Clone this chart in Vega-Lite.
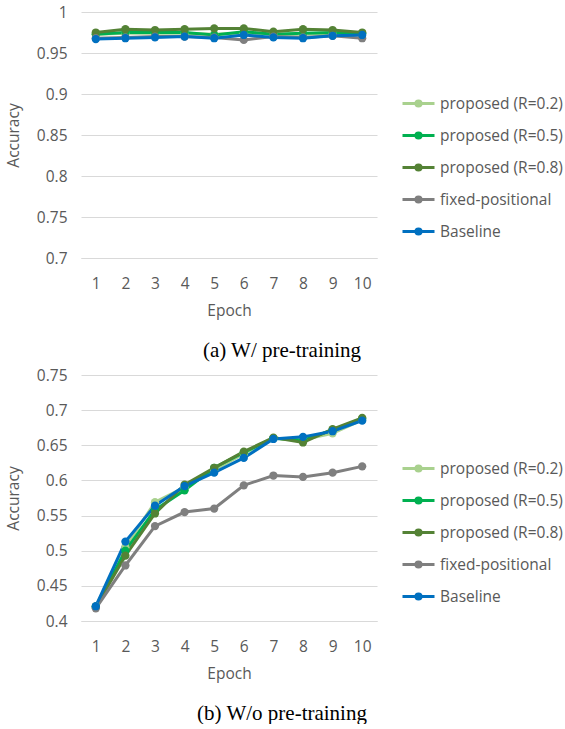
{
"$schema": "https://vega.github.io/schema/vega-lite/v6.json",
"padding": {"left": 6, "top": 5, "right": 5, "bottom": 0},
"datasets": {
"pre": [
{"series":"proposed (R=0.2)","epoch":1,"accuracy":0.973},{"series":"proposed (R=0.2)","epoch":2,"accuracy":0.974},{"series":"proposed (R=0.2)","epoch":3,"accuracy":0.974},{"series":"proposed (R=0.2)","epoch":4,"accuracy":0.974},{"series":"proposed (R=0.2)","epoch":5,"accuracy":0.973},{"series":"proposed (R=0.2)","epoch":6,"accuracy":0.974},{"series":"proposed (R=0.2)","epoch":7,"accuracy":0.973},{"series":"proposed (R=0.2)","epoch":8,"accuracy":0.973},{"series":"proposed (R=0.2)","epoch":9,"accuracy":0.974},{"series":"proposed (R=0.2)","epoch":10,"accuracy":0.974},
{"series":"proposed (R=0.5)","epoch":1,"accuracy":0.973},{"series":"proposed (R=0.5)","epoch":2,"accuracy":0.975},{"series":"proposed (R=0.5)","epoch":3,"accuracy":0.975},{"series":"proposed (R=0.5)","epoch":4,"accuracy":0.975},{"series":"proposed (R=0.5)","epoch":5,"accuracy":0.972},{"series":"proposed (R=0.5)","epoch":6,"accuracy":0.976},{"series":"proposed (R=0.5)","epoch":7,"accuracy":0.973},{"series":"proposed (R=0.5)","epoch":8,"accuracy":0.974},{"series":"proposed (R=0.5)","epoch":9,"accuracy":0.975},{"series":"proposed (R=0.5)","epoch":10,"accuracy":0.974},
{"series":"proposed (R=0.8)","epoch":1,"accuracy":0.975},{"series":"proposed (R=0.8)","epoch":2,"accuracy":0.979},{"series":"proposed (R=0.8)","epoch":3,"accuracy":0.978},{"series":"proposed (R=0.8)","epoch":4,"accuracy":0.979},{"series":"proposed (R=0.8)","epoch":5,"accuracy":0.980},{"series":"proposed (R=0.8)","epoch":6,"accuracy":0.980},{"series":"proposed (R=0.8)","epoch":7,"accuracy":0.976},{"series":"proposed (R=0.8)","epoch":8,"accuracy":0.979},{"series":"proposed (R=0.8)","epoch":9,"accuracy":0.978},{"series":"proposed (R=0.8)","epoch":10,"accuracy":0.975},
{"series":"fixed-positional","epoch":1,"accuracy":0.968},{"series":"fixed-positional","epoch":2,"accuracy":0.969},{"series":"fixed-positional","epoch":3,"accuracy":0.970},{"series":"fixed-positional","epoch":4,"accuracy":0.970},{"series":"fixed-positional","epoch":5,"accuracy":0.969},{"series":"fixed-positional","epoch":6,"accuracy":0.966},{"series":"fixed-positional","epoch":7,"accuracy":0.970},{"series":"fixed-positional","epoch":8,"accuracy":0.969},{"series":"fixed-positional","epoch":9,"accuracy":0.971},{"series":"fixed-positional","epoch":10,"accuracy":0.968},
{"series":"Baseline","epoch":1,"accuracy":0.967},{"series":"Baseline","epoch":2,"accuracy":0.968},{"series":"Baseline","epoch":3,"accuracy":0.969},{"series":"Baseline","epoch":4,"accuracy":0.970},{"series":"Baseline","epoch":5,"accuracy":0.968},{"series":"Baseline","epoch":6,"accuracy":0.972},{"series":"Baseline","epoch":7,"accuracy":0.969},{"series":"Baseline","epoch":8,"accuracy":0.968},{"series":"Baseline","epoch":9,"accuracy":0.971},{"series":"Baseline","epoch":10,"accuracy":0.972}
],
"nopre": [
{"series":"proposed (R=0.2)","epoch":1,"accuracy":0.421},{"series":"proposed (R=0.2)","epoch":2,"accuracy":0.505},{"series":"proposed (R=0.2)","epoch":3,"accuracy":0.569},{"series":"proposed (R=0.2)","epoch":4,"accuracy":0.590},{"series":"proposed (R=0.2)","epoch":5,"accuracy":0.615},{"series":"proposed (R=0.2)","epoch":6,"accuracy":0.638},{"series":"proposed (R=0.2)","epoch":7,"accuracy":0.660},{"series":"proposed (R=0.2)","epoch":8,"accuracy":0.658},{"series":"proposed (R=0.2)","epoch":9,"accuracy":0.667},{"series":"proposed (R=0.2)","epoch":10,"accuracy":0.686},
{"series":"proposed (R=0.5)","epoch":1,"accuracy":0.420},{"series":"proposed (R=0.5)","epoch":2,"accuracy":0.500},{"series":"proposed (R=0.5)","epoch":3,"accuracy":0.558},{"series":"proposed (R=0.5)","epoch":4,"accuracy":0.586},{"series":"proposed (R=0.5)","epoch":5,"accuracy":0.618},{"series":"proposed (R=0.5)","epoch":6,"accuracy":0.640},{"series":"proposed (R=0.5)","epoch":7,"accuracy":0.660},{"series":"proposed (R=0.5)","epoch":8,"accuracy":0.657},{"series":"proposed (R=0.5)","epoch":9,"accuracy":0.672},{"series":"proposed (R=0.5)","epoch":10,"accuracy":0.688},
{"series":"proposed (R=0.8)","epoch":1,"accuracy":0.420},{"series":"proposed (R=0.8)","epoch":2,"accuracy":0.493},{"series":"proposed (R=0.8)","epoch":3,"accuracy":0.553},{"series":"proposed (R=0.8)","epoch":4,"accuracy":0.594},{"series":"proposed (R=0.8)","epoch":5,"accuracy":0.618},{"series":"proposed (R=0.8)","epoch":6,"accuracy":0.641},{"series":"proposed (R=0.8)","epoch":7,"accuracy":0.661},{"series":"proposed (R=0.8)","epoch":8,"accuracy":0.654},{"series":"proposed (R=0.8)","epoch":9,"accuracy":0.673},{"series":"proposed (R=0.8)","epoch":10,"accuracy":0.689},
{"series":"fixed-positional","epoch":1,"accuracy":0.418},{"series":"fixed-positional","epoch":2,"accuracy":0.479},{"series":"fixed-positional","epoch":3,"accuracy":0.535},{"series":"fixed-positional","epoch":4,"accuracy":0.555},{"series":"fixed-positional","epoch":5,"accuracy":0.560},{"series":"fixed-positional","epoch":6,"accuracy":0.593},{"series":"fixed-positional","epoch":7,"accuracy":0.607},{"series":"fixed-positional","epoch":8,"accuracy":0.605},{"series":"fixed-positional","epoch":9,"accuracy":0.611},{"series":"fixed-positional","epoch":10,"accuracy":0.620},
{"series":"Baseline","epoch":1,"accuracy":0.421},{"series":"Baseline","epoch":2,"accuracy":0.513},{"series":"Baseline","epoch":3,"accuracy":0.564},{"series":"Baseline","epoch":4,"accuracy":0.592},{"series":"Baseline","epoch":5,"accuracy":0.611},{"series":"Baseline","epoch":6,"accuracy":0.632},{"series":"Baseline","epoch":7,"accuracy":0.659},{"series":"Baseline","epoch":8,"accuracy":0.662},{"series":"Baseline","epoch":9,"accuracy":0.670},{"series":"Baseline","epoch":10,"accuracy":0.685}
]
},
"spacing": 7,
"resolve": {"legend": {"color": "independent"}, "scale": {"y": "independent"}},
"vconcat": [
{
"data": {"name": "pre"},
"width": 296, "height": 246,
"title": {"text": "(a) W/ pre-training", "orient": "bottom", "anchor": "middle", "dx": 53, "offset": 21},
"mark": {"type": "line", "strokeWidth": 3, "point": {"filled": true, "size": 68, "opacity": 1}},
"encoding": {
"x": {"field": "epoch", "type": "ordinal", "scale": {"type": "point", "padding": 0.5}, "axis": {"title": "Epoch", "labelAngle": 0, "grid": false, "labelPadding": 18, "titlePadding": 12}},
"y": {"field": "accuracy", "type": "quantitative", "scale": {"domain": [0.7, 1]}, "axis": {"title": "Accuracy", "values": [0.7, 0.75, 0.8, 0.85, 0.9, 0.95, 1], "labelExpr": "'' + round(datum.value*100)/100", "domain": false, "labelPadding": 14, "titlePadding": 15}},
"color": {"field": "series", "type": "nominal", "sort": null, "scale": {"domain": ["proposed (R=0.2)", "proposed (R=0.5)", "proposed (R=0.8)", "fixed-positional", "Baseline"], "range": ["#A9D18E", "#00B050", "#548235", "#7F7F7F", "#0070C0"]}, "legend": {"title": null, "orient": "none", "legendX": 320, "legendY": 74}}
}
},
{
"data": {"name": "nopre"},
"width": 296, "height": 246,
"title": {"text": "(b) W/o pre-training", "orient": "bottom", "anchor": "middle", "dx": 53, "offset": 21},
"mark": {"type": "line", "strokeWidth": 3, "point": {"filled": true, "size": 68, "opacity": 1}},
"encoding": {
"x": {"field": "epoch", "type": "ordinal", "scale": {"type": "point", "padding": 0.5}, "axis": {"title": "Epoch", "labelAngle": 0, "grid": false, "labelPadding": 18, "titlePadding": 12}},
"y": {"field": "accuracy", "type": "quantitative", "scale": {"domain": [0.4, 0.75]}, "axis": {"title": "Accuracy", "values": [0.4, 0.45, 0.5, 0.55, 0.6, 0.65, 0.7, 0.75], "labelExpr": "'' + round(datum.value*100)/100", "domain": false, "labelPadding": 14, "titlePadding": 15}},
"color": {"field": "series", "type": "nominal", "sort": null, "scale": {"domain": ["proposed (R=0.2)", "proposed (R=0.5)", "proposed (R=0.8)", "fixed-positional", "Baseline"], "range": ["#A9D18E", "#00B050", "#548235", "#7F7F7F", "#0070C0"]}, "legend": {"title": null, "orient": "none", "legendX": 320, "legendY": 76}}
}
}
],
"config": {
"view": {"stroke": null},
"font": "Open Sans",
"axis": {"labelFont": "Open Sans", "titleFont": "Open Sans", "labelFontSize": 15.5, "titleFontSize": 15.5, "titleFontWeight": "normal", "labelColor": "#595959", "titleColor": "#595959", "ticks": false, "gridColor": "#D9D9D9", "domainColor": "#D9D9D9", "gridWidth": 1},
"legend": {"labelFont": "Open Sans", "labelFontSize": 15.5, "labelColor": "#595959", "labelOffset": 4, "symbolSize": 1024, "symbolStrokeWidth": 3, "rowPadding": 5, "symbolType": "M-1,0H1M0.16,0A0.16,0.16,0,1,1,-0.16,0A0.16,0.16,0,1,1,0.16,0M0.06,0A0.06,0.06,0,1,1,-0.06,0A0.06,0.06,0,1,1,0.06,0", "labelLimit": 300},
"title": {"font": "Liberation Serif", "fontSize": 21, "fontWeight": "normal", "color": "#000000"}
}
}
